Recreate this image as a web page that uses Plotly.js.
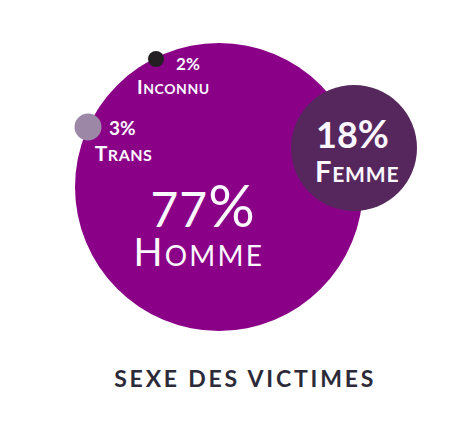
<!DOCTYPE html>
<html>
<head>
<meta charset="utf-8">
<script src="https://cdn.plot.ly/plotly-3.0.1.min.js"></script>
<style>
  html, body { margin: 0; padding: 0; background: #ffffff; }
  #chart { width: 470px; height: 423px; }
  g.annotation[data-index="0"] text { letter-spacing: 1px; }
  g.annotation[data-index="1"] text { letter-spacing: 2.2px; }
  g.annotation[data-index="3"] text { letter-spacing: 0.8px; }
  g.annotation[data-index="5"] text { letter-spacing: 0.5px; }
  g.annotation[data-index="7"] text { letter-spacing: 0.6px; }
  g.annotation[data-index="8"] text { letter-spacing: 2.8px; }
</style>
</head>
<body>
<div id="chart"></div>
<script>
// ---- data ----
const categories = ["Homme", "Femme", "Trans", "Inconnu"];
const percentages = [77, 18, 3, 2];
const chartTitle = "SEXE DES VICTIMES";

// ---- layout (bubble placement, pixel space) ----
const bubbleX = [219, 354, 88, 156];
const bubbleY = [187, 148, 127, 59];
const bubbleDiameter = [288, 126, 27, 16];
const bubbleColor = ["#8a0087", "#56275d", "#9c87a7", "#231f22"];

// label styling per category
const labelStyle = [
  {num: 48, sign: 58, bold: false, big: 38, small: 28, nameBold: false, px: 203, py: 204, nx: 199, ny: 251},
  {num: 36, sign: 38, bold: true,  big: 29, small: 21, nameBold: true,  px: 352, py: 133, nx: 357, ny: 170},
  {num: 19, sign: 19, bold: true,  big: 21, small: 16, nameBold: true,  px: 122, py: 127, nx: 123, ny: 152},
  {num: 17, sign: 17, bold: true,  big: 19, small: 14, nameBold: true,  px: 188, py: 63,  nx: 173, ny: 86}
];

const textColor = "#fbf7ff";
const font = "Lato, 'Open Sans', sans-serif";

function smallCaps(word, small) {
  const up = word.toUpperCase();
  return up.charAt(0) + '<span style="font-size:' + small + 'px">' + up.slice(1) + '</span>';
}
function pctText(v, s) {
  return v + '<span style="font-size:' + s.sign + 'px">%</span>';
}
function wrapBold(t, b) { return b ? "<b>" + t + "</b>" : t; }

const trace = {
  type: "scatter",
  mode: "markers",
  x: bubbleX,
  y: bubbleY,
  text: categories.map((c, i) => c + ": " + percentages[i] + "%"),
  hoverinfo: "text",
  marker: {
    size: bubbleDiameter,
    sizemode: "diameter",
    color: bubbleColor,
    opacity: 1,
    line: {width: 0}
  }
};

const annotations = [];
categories.forEach((c, i) => {
  const s = labelStyle[i];
  annotations.push({
    x: s.px, y: s.py, xref: "x", yref: "y",
    text: wrapBold(pctText(percentages[i], s), s.bold),
    showarrow: false, xanchor: "center", yanchor: "middle",
    font: {family: font, size: s.num, color: textColor}
  });
  annotations.push({
    x: s.nx, y: s.ny, xref: "x", yref: "y",
    text: wrapBold(smallCaps(c, s.small), s.nameBold),
    showarrow: false, xanchor: "center", yanchor: "middle",
    font: {family: font, size: s.big, color: textColor}
  });
});
annotations.push({
  x: 245, y: 378, xref: "x", yref: "y",
  text: "<b>" + chartTitle + "</b>",
  showarrow: false, xanchor: "center", yanchor: "middle",
  font: {family: font, size: 23, color: "#2c2a38"}
});

const layout = {
  width: 470, height: 423,
  margin: {l: 0, r: 0, t: 0, b: 0},
  paper_bgcolor: "#ffffff",
  plot_bgcolor: "#ffffff",
  showlegend: false,
  xaxis: {range: [0, 470], visible: false, fixedrange: true},
  yaxis: {range: [423, 0], visible: false, fixedrange: true},
  annotations: annotations
};

Plotly.newPlot("chart", [trace], layout, {displayModeBar: false, staticPlot: true});
</script>
</body>
</html>
